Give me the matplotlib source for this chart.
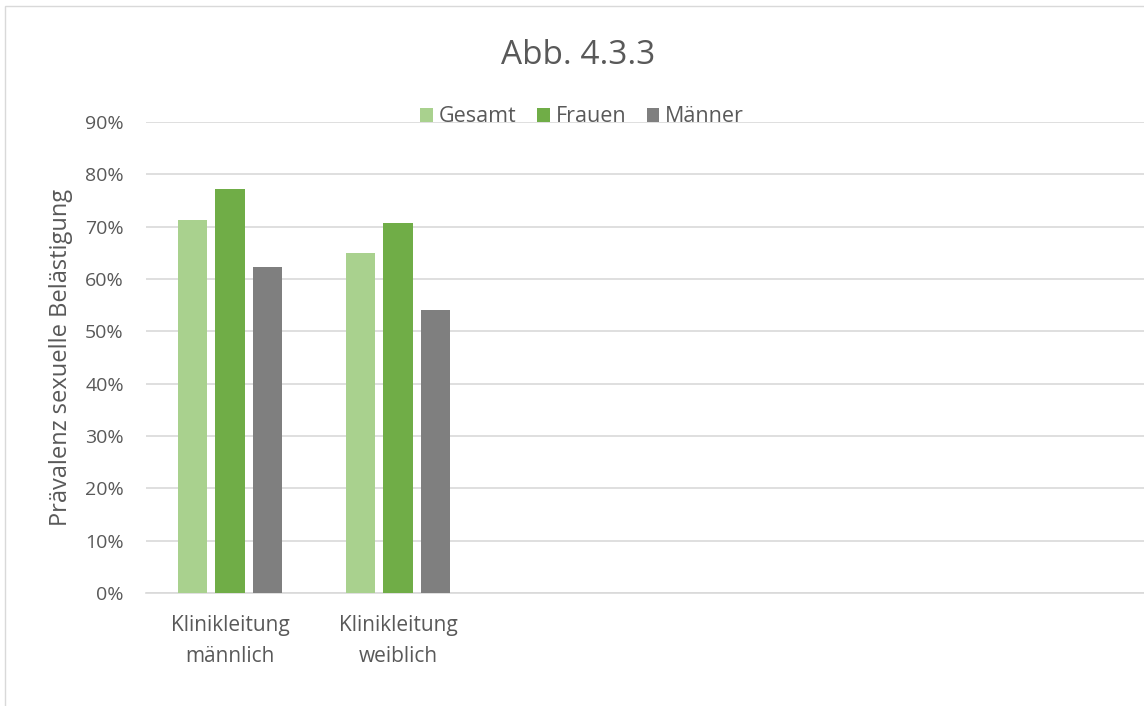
import matplotlib
matplotlib.use("Agg")
import matplotlib.pyplot as plt
from matplotlib.patches import Rectangle, Patch
from matplotlib.ticker import PercentFormatter

plt.rcParams['font.family'] = ['Open Sans', 'DejaVu Sans']

categories = ["Klinikleitung\nmännlich", "Klinikleitung\nweiblich"]
series_names = ["Gesamt", "Frauen", "Männer"]
gesamt = [71.3, 64.9]
frauen = [77.2, 70.7]
maenner = [62.2, 54.0]
y_ticks = [0, 10, 20, 30, 40, 50, 60, 70, 80, 90]
colors = ["#a9d18e", "#70ad47", "#7f7f7f"]
n_slots = 6

W, H = 1144, 706
fig = plt.figure(figsize=(W / 100, H / 100), dpi=100)
txt = "#595959"
grid_c = "#d9d9d9"

# chart border
fig.patches.append(Rectangle((5 / W, -0.1), 1.2, (H - 6) / H + 0.1,
                             transform=fig.transFigure, fill=False,
                             edgecolor=grid_c, linewidth=1.0, zorder=0))

left, right = 146, 146 + 168 * n_slots
bottom, top = 593, 122
ax = fig.add_axes([left / W, (H - bottom) / H, (right - left) / W, (bottom - top) / H])

bw = 0.1745
step = 0.222
for i, (vals, c) in enumerate(zip([gesamt, frauen, maenner], colors)):
    xs = [k + (i - 1) * step for k in range(len(vals))]
    ax.bar(xs, vals, width=bw, color=c, zorder=3, label=series_names[i])

ax.set_xlim(-0.5, n_slots - 0.5)
ax.set_ylim(0, 90)
ax.set_yticks(y_ticks)
ax.yaxis.set_major_formatter(PercentFormatter(decimals=0))
ax.set_xticks(range(len(categories)))
ax.set_xticklabels(categories, fontsize=15, color=txt, linespacing=1.6)
ax.tick_params(axis='y', labelsize=14, colors=txt, length=0, pad=16)
ax.tick_params(axis='x', length=0, pad=16)
ax.grid(axis='y', color=grid_c, linewidth=1.2, zorder=0)
for s in ['top', 'right', 'left']:
    ax.spines[s].set_visible(False)
ax.spines['bottom'].set_color(grid_c)
ax.spines['bottom'].set_linewidth(1.2)
ax.set_axisbelow(True)

ax.set_ylabel("Prävalenz sexuelle Belästigung", fontsize=17, color=txt, labelpad=9)

fig.text(578 / W, 1 - 55 / H, "Abb. 4.3.3", ha='center', va='center', fontsize=24, color=txt)

handles = [Patch(facecolor=c) for c in colors]
fig.legend(handles, series_names, loc='center', bbox_to_anchor=(582 / W, 1 - 117 / H),
           ncol=3, frameon=False, fontsize=15.5, labelcolor=txt,
           handlelength=0.6, handleheight=0.6, handletextpad=0.27, columnspacing=0.95)

fig.savefig("out.png", dpi=100)
